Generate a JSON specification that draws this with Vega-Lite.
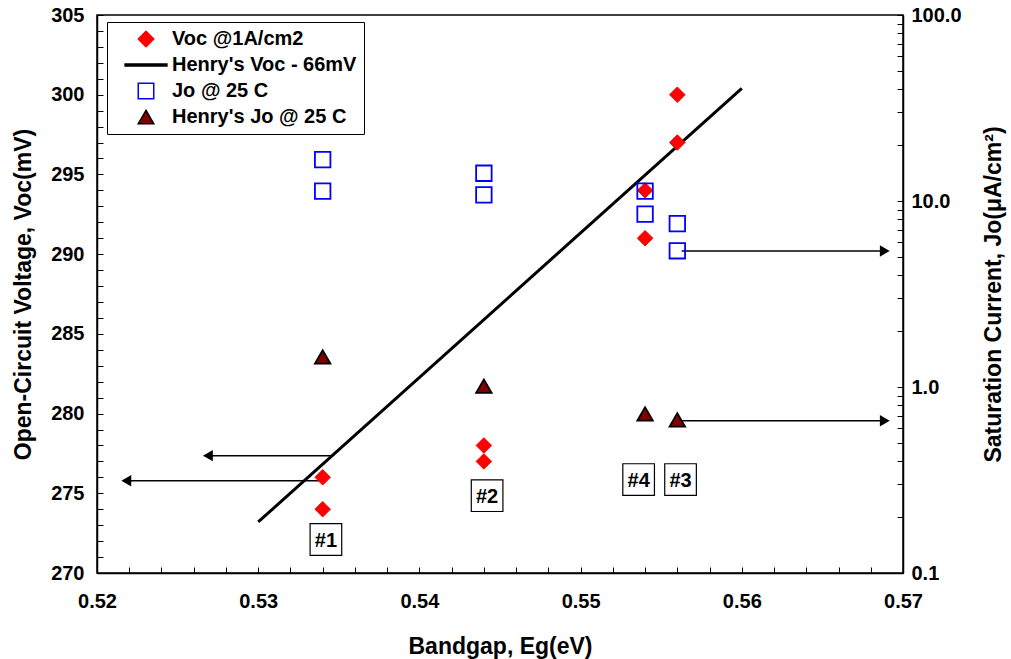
{
  "$schema": "https://vega.github.io/schema/vega-lite/v6.json",
  "width": 806,
  "height": 558,
  "autosize": {"type": "none"},
  "padding": {"left": 97, "top": 15, "right": 108, "bottom": 86},
  "background": "white",
  "config": {
    "font": "Liberation Sans",
    "view": {"stroke": "black", "strokeWidth": 1.5},
    "axis": {
      "grid": false,
      "domainColor": "black",
      "domainWidth": 1.5,
      "tickColor": "black",
      "tickWidth": 1,
      "tickSize": -6,
      "tickCount": 100,
      "labelOverlap": false,
      "labelFlush": false,
      "labelFont": "Liberation Sans",
      "labelFontWeight": "bold",
      "labelFontSize": 20,
      "labelColor": "black",
      "titleFont": "Liberation Sans",
      "titleFontWeight": "bold",
      "titleFontSize": 23,
      "titleColor": "black"
    },
    "legend": {
      "orient": "none",
      "legendX": 10,
      "legendY": 7,
      "strokeColor": "black",
      "fillColor": "white",
      "padding": 7,
      "labelFont": "Liberation Sans",
      "labelFontWeight": "bold",
      "labelFontSize": 20,
      "labelColor": "black",
      "labelLimit": 400,
      "symbolSize": 240,
      "rowPadding": 5,
      "symbolOffset": 22,
      "labelOffset": 16
    }
  },
  "datasets": {
    "voc": [
      {"eg": 0.534, "v": 276, "series": "Voc @1A/cm2"},
      {"eg": 0.534, "v": 274, "series": "Voc @1A/cm2"},
      {"eg": 0.544, "v": 278, "series": "Voc @1A/cm2"},
      {"eg": 0.544, "v": 277, "series": "Voc @1A/cm2"},
      {"eg": 0.554, "v": 294, "series": "Voc @1A/cm2"},
      {"eg": 0.554, "v": 291, "series": "Voc @1A/cm2"},
      {"eg": 0.556, "v": 300, "series": "Voc @1A/cm2"},
      {"eg": 0.556, "v": 297, "series": "Voc @1A/cm2"}
    ],
    "jo": [
      {"eg": 0.534, "j": 16.7, "series": "Jo @ 25 C"},
      {"eg": 0.534, "j": 11.3, "series": "Jo @ 25 C"},
      {"eg": 0.544, "j": 14.1, "series": "Jo @ 25 C"},
      {"eg": 0.544, "j": 10.8, "series": "Jo @ 25 C"},
      {"eg": 0.554, "j": 11.3, "series": "Jo @ 25 C"},
      {"eg": 0.554, "j": 8.5, "series": "Jo @ 25 C"},
      {"eg": 0.556, "j": 7.55, "series": "Jo @ 25 C"},
      {"eg": 0.556, "j": 5.4, "series": "Jo @ 25 C"},
      {"eg": 0.534, "j": 1.45, "series": "Henry's Jo @ 25 C"},
      {"eg": 0.544, "j": 1.01, "series": "Henry's Jo @ 25 C"},
      {"eg": 0.554, "j": 0.716, "series": "Henry's Jo @ 25 C"},
      {"eg": 0.556, "j": 0.665, "series": "Henry's Jo @ 25 C"}
    ],
    "henry": [
      {"eg": 0.53, "v": 273.2},
      {"eg": 0.56, "v": 300.4}
    ],
    "arrowsL": [
      {"eg": 0.53463, "eg2": 0.52688, "v": 277.36},
      {"eg": 0.5338, "eg2": 0.52182, "v": 275.79}
    ],
    "arrowsR": [
      {"eg": 0.55627, "eg2": 0.56887, "j": 5.39},
      {"eg": 0.55627, "eg2": 0.56887, "j": 0.659}
    ],
    "labels": [
      {"eg": 0.5342, "v": 272.1, "label": "#1"},
      {"eg": 0.5442, "v": 274.85, "label": "#2"},
      {"eg": 0.5536, "v": 275.86, "label": "#4"},
      {"eg": 0.5562, "v": 275.86, "label": "#3"}
    ]
  },
  "layer": [
    {
      "layer": [
        {
          "data": {"name": "henry"},
          "mark": {"type": "line", "color": "black", "strokeWidth": 3},
          "encoding": {
            "x": {"field": "eg", "type": "quantitative", "scale": {"domain": [0.52, 0.57], "nice": false, "zero": false},
              "axis": {"title": "Bandgap, Eg(eV)", "values": [0.52,0.522,0.524,0.526,0.528,0.53,0.532,0.534,0.536,0.538,0.54,0.542,0.544,0.546,0.548,0.55,0.552,0.554,0.556,0.558,0.56,0.562,0.564,0.566,0.568,0.57],
                "labelExpr": "abs(datum.value*100 - round(datum.value*100)) < 0.001 ? format(datum.value, '.2f') : ''",
                "tickCount": 100, "labelPadding": 24, "titlePadding": 24, "labelFlush": false, "labelOverlap": false}},
            "y": {"field": "v", "type": "quantitative", "scale": {"domain": [270, 305], "nice": false, "zero": false},
              "axis": {"title": "Open-Circuit Voltage, Voc(mV)", "orient": "left",
                "values": [270,271,272,273,274,275,276,277,278,279,280,281,282,283,284,285,286,287,288,289,290,291,292,293,294,295,296,297,298,299,300,301,302,303,304,305],
                "labelExpr": "datum.value % 5 == 0 ? format(datum.value, 'd') : ''",
                "tickCount": 100, "labelPadding": 19, "titlePadding": 15, "labelFlush": false, "labelOverlap": false}}
          }
        },
        {
          "data": {"name": "arrowsL"},
          "mark": {"type": "rule", "color": "black", "strokeWidth": 1.5},
          "encoding": {
            "x": {"field": "eg", "type": "quantitative"},
            "x2": {"field": "eg2"},
            "y": {"field": "v", "type": "quantitative"}
          }
        },
        {
          "data": {"name": "arrowsL"},
          "mark": {"type": "point", "shape": "triangle-left", "filled": true, "color": "black", "size": 130, "opacity": 1},
          "encoding": {
            "x": {"field": "eg2", "type": "quantitative"},
            "y": {"field": "v", "type": "quantitative"}
          }
        },
        {
          "data": {"name": "voc"},
          "mark": {"type": "point", "filled": true, "opacity": 1, "size": 240, "strokeWidth": 1},
          "encoding": {
            "x": {"field": "eg", "type": "quantitative"},
            "y": {"field": "v", "type": "quantitative"},
            "shape": {"field": "series", "type": "nominal", "scale": {"domain": ["Voc @1A/cm2", "Henry's Voc - 66mV", "Jo @ 25 C", "Henry's Jo @ 25 C"], "range": ["diamond", "M-2.7,-0.12H2.7V0.12H-2.7Z", "square", "triangle-up"]}, "legend": {"title": null}},
            "fill": {"field": "series", "type": "nominal", "scale": {"domain": ["Voc @1A/cm2", "Henry's Voc - 66mV", "Jo @ 25 C", "Henry's Jo @ 25 C"], "range": ["#ff0000", "#000000", "transparent", "#800000"]}, "legend": {"title": null}},
            "stroke": {"field": "series", "type": "nominal", "scale": {"domain": ["Voc @1A/cm2", "Henry's Voc - 66mV", "Jo @ 25 C", "Henry's Jo @ 25 C"], "range": ["#ff0000", "#000000", "#0000ff", "#000000"]}, "legend": {"title": null}}
          }
        },
        {
          "data": {"name": "labels"},
          "mark": {"type": "point", "shape": "square", "filled": true, "fill": "white", "stroke": "black", "strokeWidth": 1.2, "size": 1000, "opacity": 1},
          "encoding": {
            "x": {"field": "eg", "type": "quantitative"},
            "y": {"field": "v", "type": "quantitative"}
          }
        },
        {
          "data": {"name": "labels"},
          "mark": {"type": "text", "font": "Liberation Sans", "fontWeight": "bold", "fontSize": 20, "color": "black", "baseline": "middle", "align": "center", "dy": 1},
          "encoding": {
            "x": {"field": "eg", "type": "quantitative"},
            "y": {"field": "v", "type": "quantitative"},
            "text": {"field": "label"}
          }
        }
      ]
    },
    {
      "layer": [
        {
          "data": {"name": "arrowsR"},
          "mark": {"type": "rule", "color": "black", "strokeWidth": 1.5},
          "encoding": {
            "x": {"field": "eg", "type": "quantitative"},
            "x2": {"field": "eg2"},
            "y": {"field": "j", "type": "quantitative", "scale": {"type": "log", "domain": [0.1, 100], "nice": false},
              "axis": {"title": "Saturation Current, Jo(μA/cm²)", "orient": "right", "titleAngle": 270,
                "values": [0.1,0.2,0.3,0.4,0.5,0.6,0.7,0.8,0.9,1,2,3,4,5,6,7,8,9,10,20,30,40,50,60,70,80,90,100],
                "labelExpr": "(datum.value == 0.1 || datum.value == 1 || datum.value == 10 || datum.value == 100) ? format(datum.value, '.1f') : ''",
                "tickCount": 100, "labelPadding": 14, "titlePadding": 44, "labelFlush": false, "labelOverlap": false}}
          }
        },
        {
          "data": {"name": "arrowsR"},
          "mark": {"type": "point", "shape": "triangle-right", "filled": true, "color": "black", "size": 130, "opacity": 1},
          "encoding": {
            "x": {"field": "eg2", "type": "quantitative"},
            "y": {"field": "j", "type": "quantitative"}
          }
        },
        {
          "data": {"name": "jo"},
          "mark": {"type": "point", "filled": true, "opacity": 1, "size": 240, "strokeWidth": 1.8},
          "encoding": {
            "x": {"field": "eg", "type": "quantitative"},
            "y": {"field": "j", "type": "quantitative"},
            "shape": {"field": "series", "type": "nominal", "scale": {"domain": ["Voc @1A/cm2", "Henry's Voc - 66mV", "Jo @ 25 C", "Henry's Jo @ 25 C"], "range": ["diamond", "M-2.7,-0.12H2.7V0.12H-2.7Z", "square", "triangle-up"]}, "legend": {"title": null}},
            "fill": {"field": "series", "type": "nominal", "scale": {"domain": ["Voc @1A/cm2", "Henry's Voc - 66mV", "Jo @ 25 C", "Henry's Jo @ 25 C"], "range": ["#ff0000", "#000000", "transparent", "#800000"]}, "legend": {"title": null}},
            "stroke": {"field": "series", "type": "nominal", "scale": {"domain": ["Voc @1A/cm2", "Henry's Voc - 66mV", "Jo @ 25 C", "Henry's Jo @ 25 C"], "range": ["#ff0000", "#000000", "#0000ff", "#000000"]}, "legend": {"title": null}}
          }
        }
      ]
    }
  ],
  "resolve": {"scale": {"y": "independent"}}
}
